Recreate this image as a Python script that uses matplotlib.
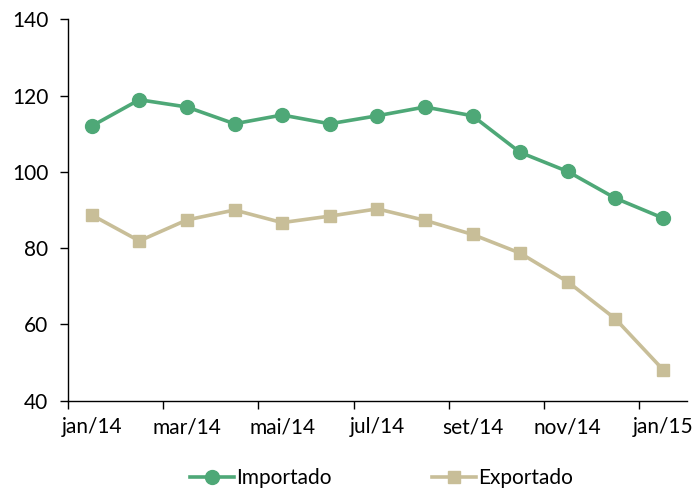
import numpy as np
from matplotlib import pyplot as plt

months = ['jan/14', 'fev/14', 'mar/14', 'abr/14', 'mai/14', 'jun/14', 'jul/14',
          'ago/14', 'set/14', 'out/14', 'nov/14', 'dez/14', 'jan/15']
importado = [112.0, 118.9, 117.0, 112.6, 114.9, 112.6, 114.7,
             117.0, 114.7, 105.1, 100.1, 93.1, 87.9]
exportado = [88.7, 81.9, 87.4, 90.0, 86.7, 88.4, 90.3,
             87.3, 83.6, 78.7, 71.2, 61.5, 48.2]

plt.rcParams['font.family'] = ['Lato', 'DejaVu Sans']

figure = plt.figure(figsize=(7, 4.93), dpi=100)
axes = figure.add_axes([0.097, 0.187, 0.884, 0.774])

x = np.arange(len(months))
axes.plot(x, importado, '-o', color='#4EA877', linewidth=2.6, markersize=10,
          label='Importado')
axes.plot(x, exportado, '-s', color='#C8BE98', linewidth=2.6, markersize=9,
          label='Exportado')

axes.set_xlim(-0.5, len(months) - 0.5)
axes.set_ylim(40, 140)
axes.set_yticks(np.arange(40, 141, 20))

# tick marks between categories, labels on every other month
axes.set_xticks(np.arange(-0.5, len(months) - 1, 2))
axes.set_xticklabels([])
axes.set_xticks(x[::2], minor=True)
axes.set_xticklabels(months[::2], minor=True)
axes.tick_params(axis='x', which='major', length=6, width=1, direction='out')
axes.tick_params(axis='x', which='minor', length=0, pad=12, labelsize=15)
axes.tick_params(axis='y', length=6, width=1, labelsize=15, pad=8)

for side in ['top', 'right']:
    axes.spines[side].set_visible(False)
for side in ['left', 'bottom']:
    axes.spines[side].set_linewidth(1)

figure.legend(loc='center', bbox_to_anchor=(0.545, 0.03), ncol=2, frameon=False,
              fontsize=15, handlelength=2.1, handletextpad=0.1, columnspacing=4.8)

figure.savefig('out.png', dpi=100)
